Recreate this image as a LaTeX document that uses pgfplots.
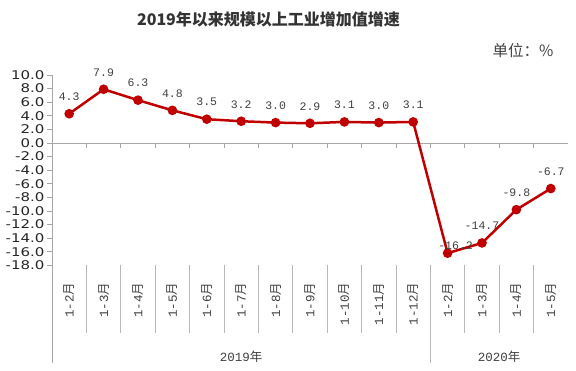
\documentclass[border=0pt]{standalone}
\usepackage{pgfplots}
\usepackage{pgfplotstable}
\pgfplotsset{compat=1.18}
\usepackage{fontspec}
\setmainfont{Liberation Sans}
\newfontfamily\cjk{Noto Sans CJK SC}
\newfontfamily\dejavu{DejaVu Sans}
\newfontfamily\mono{Liberation Mono}
\definecolor{linered}{HTML}{C00000}
\definecolor{axgray}{HTML}{A6A6A6}
\definecolor{txt}{HTML}{404040}

\pgfplotstableread{
x y dx dy lbl
0 4.3 0 17 4.3
1 7.9 0 17 7.9
2 6.3 0 17 6.3
3 4.8 0 17 4.8
4 3.5 0 17 3.5
5 3.2 0 17 3.2
6 3.0 0 17 3.0
7 2.9 0 17 2.9
8 3.1 0 17 3.1
9 3.0 0 17 3.0
10 3.1 0 17 3.1
11 -16.2 8 7 -16.2
12 -14.7 0 17 -14.7
13 -9.8 0 17 -9.8
14 -6.7 0 17 -6.7
}\datatable

\begin{document}
\begin{tikzpicture}
\path[use as bounding box] (0,0) rectangle (576pt,371pt);
\node[font=\cjk\bfseries\fontsize{16}{19}\selectfont, text=black!80] at (268.5pt,352pt) {2019年以来规模以上工业增加值增速};
\node[font=\cjk\fontsize{15.5}{18}\selectfont, anchor=east, text=txt] at (557pt,320pt) {单位：\%};
\begin{axis}[
  at={(52pt,105.6pt)}, anchor=south west,
  scale only axis, width=516pt, height=190.4pt,
  xmin=-0.5, xmax=14.5, ymin=-18, ymax=10,
  clip=false,
  axis x line=bottom, axis y line=left,
  axis line style={draw=none,-},
  major tick length=5pt, tick align=outside,
  xtick style={draw=none},
  ytick style={axgray, line width=0.8pt},
  ytick={-18,-16,...,10},
  yticklabel={\scalebox{1.25}[1]{\dejavu\pgfmathprintnumber[fixed,fixed zerofill,precision=1,assume math mode=true]{\tick}}},
  yticklabel style={font=\dejavu\fontsize{12}{14}\selectfont, text=black!85, xshift=1pt},
  xtick={0,...,14},
  xticklabels={{\mono 1-2}月,{\mono 1-3}月,{\mono 1-4}月,{\mono 1-5}月,{\mono 1-6}月,{\mono 1-7}月,{\mono 1-8}月,{\mono 1-9}月,{\mono 1-10}月,{\mono 1-11}月,{\mono 1-12}月,{\mono 1-2}月,{\mono 1-3}月,{\mono 1-4}月,{\mono 1-5}月},
  xticklabel style={rotate=90, anchor=east, font=\cjk\fontsize{12.5}{14}\selectfont, text=txt},
  xticklabel shift=9pt,
]
\draw[axgray, line width=0.8pt] (axis cs:-0.5,10) -- (axis cs:-0.5,-32.3);
\draw[axgray, line width=0.8pt] (axis cs:-0.5,0) -- (axis cs:14.5,0);
\pgfplotsinvokeforeach{0.5,1.5,2.5,3.5,4.5,5.5,6.5,7.5,8.5,9.5,10.5,11.5,12.5,13.5}{
  \draw[axgray, line width=0.8pt] (axis cs:#1,0) -- (axis cs:#1,-0.75);
}
\pgfplotsinvokeforeach{0.5,1.5,2.5,3.5,4.5,5.5,6.5,7.5,8.5,9.5,11.5,12.5,13.5}{
  \draw[axgray!80, line width=0.8pt] (axis cs:#1,-18) -- (axis cs:#1,-27.9);
}
\draw[axgray!80, line width=0.8pt] (axis cs:10.5,-18) -- (axis cs:10.5,-32.3);
\node[font=\cjk\fontsize{12.5}{14}\selectfont, text=txt] at (axis cs:5,-31.5) {{\mono 2019}年};
\node[font=\cjk\fontsize{12.5}{14}\selectfont, text=txt] at (axis cs:12.5,-31.5) {{\mono 2020}年};
\addplot[linered, line width=2.5pt, mark=*, mark size=3.5pt,
  nodes near coords, point meta=explicit symbolic,
  visualization depends on={\thisrow{dx} \as \dx},
  visualization depends on={\thisrow{dy} \as \dy},
  every node near coord/.append style={anchor=center, xshift=\dx pt, yshift=\dy pt,
     font=\mono\fontsize{11.5}{13}\selectfont, text=txt}]
  table[x=x, y=y, meta=lbl] {\datatable};
\end{axis}
\end{tikzpicture}
\end{document}
